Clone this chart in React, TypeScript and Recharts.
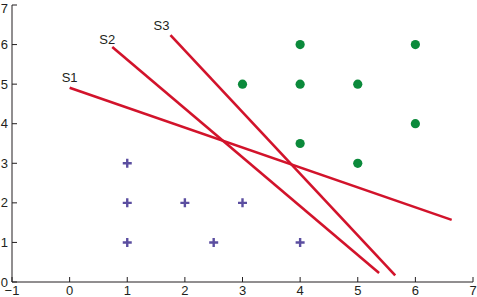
import React from 'react';
import { ScatterChart, Scatter, XAxis, YAxis, LabelList } from 'recharts';

// class A (crosses) and class B (dots)
const crossX = [1, 1, 1, 2, 3, 2.5, 4];
const crossY = [3, 2, 1, 2, 2, 1, 1];
const dotX = [3, 4, 4, 5, 6, 6, 4, 5];
const dotY = [5, 6, 5, 5, 6, 4, 3.5, 3];

// separating lines, start -> end
const lineNames = ['S1', 'S2', 'S3'];
const lineX = [[0, 6.63], [0.74, 5.37], [1.75, 5.65]];
const lineY = [[4.91, 1.57], [5.94, 0.23], [6.24, 0.17]];

const xTicks = [-1, 0, 1, 2, 3, 4, 5, 6, 7];
const yTicks = [0, 1, 2, 3, 4, 5, 6, 7];

const crosses = crossX.map((x, i) => ({ x, y: crossY[i] }));
const dots = dotX.map((x, i) => ({ x, y: dotY[i] }));
const lines = lineNames.map((name, i) => ({
  name,
  data: lineX[i].map((x, j) => ({ x, y: lineY[i][j], label: j === 0 ? name : '' })),
}));

// label offsets (text baseline) relative to the first point of each line
const labelOffset: Record<string, [number, number]> = {
  S1: [0, -6],
  S2: [-5, -3],
  S3: [-9, -5],
};

const axisColor = '#231f20';
const fmt = (v: number) => String(v).replace('-', '\u2212');

const Cross = (props: any) => {
  const { cx, cy } = props;
  return (
    <path
      d={`M${cx - 4.5},${cy}H${cx + 4.5}M${cx},${cy - 4.5}V${cy + 4.5}`}
      stroke="#5b4ea0"
      strokeWidth={2.4}
      fill="none"
    />
  );
};

const Dot = (props: any) => <circle cx={props.cx} cy={props.cy} r={4.6} fill="#0b8a3b" />;

const App = () => {
  return (
    <div style={{ position: 'absolute', left: 0, top: 0 }}>
      <ScatterChart
        width={477}
        height={297}
        margin={{ top: 5, right: 4, left: 0, bottom: 0 }}
        style={{ fontFamily: '"Liberation Sans", Arial, sans-serif' }}
      >
        <XAxis
          type="number"
          dataKey="x"
          domain={[-1, 7]}
          ticks={xTicks}
          tickFormatter={fmt}
          height={15}
          tickSize={-5}
          tickMargin={9}
          stroke={axisColor}
          tick={{ fill: axisColor, fontSize: 13 }}
          allowDataOverflow
        />
        <XAxis
          xAxisId="top"
          orientation="top"
          type="number"
          domain={[-1, 7]}
          ticks={xTicks}
          height={0}
          tickSize={-5}
          tick={false}
          stroke={axisColor}
        />
        <YAxis
          type="number"
          dataKey="y"
          domain={[0, 7]}
          ticks={yTicks}
          width={12}
          tickSize={-5}
          tickMargin={9}
          stroke={axisColor}
          tick={{ fill: axisColor, fontSize: 13 }}
          allowDataOverflow
        />
        <YAxis
          yAxisId="right"
          orientation="right"
          type="number"
          domain={[0, 7]}
          ticks={yTicks}
          width={0}
          tickSize={-5}
          tick={false}
          stroke={axisColor}
        />
        {lines.map((l) => (
          <Scatter
            key={l.name}
            data={l.data}
            line={{ stroke: '#d2132b', strokeWidth: 2.6 }}
            shape={() => <g />}
            isAnimationActive={false}
          >
            <LabelList
              dataKey="label"
              content={(p: any) =>
                p.value ? (
                  <text
                    x={p.x + p.width / 2 + labelOffset[p.value][0]}
                    y={p.y + p.height / 2 + labelOffset[p.value][1]}
                    textAnchor="middle"
                    fontSize={13}
                    fill={axisColor}
                  >
                    {p.value}
                  </text>
                ) : null
              }
            />
          </Scatter>
        ))}
        <Scatter data={crosses} shape={Cross} isAnimationActive={false} />
        <Scatter data={dots} shape={Dot} isAnimationActive={false} />
      </ScatterChart>
    </div>
  );
};

export default App;
